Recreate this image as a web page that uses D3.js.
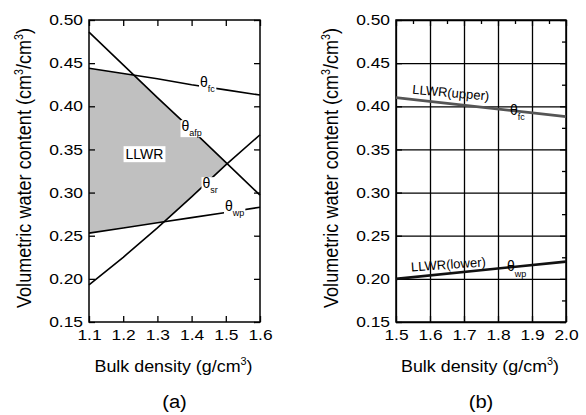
<!DOCTYPE html>
<html>
<head>
  <script src="https://d3js.org/d3.v7.min.js"></script>
  <style>
    body {
  margin: 0;
  background-color: #ffffff;
  font-family: 'Liberation Sans', Arial, sans-serif;
}

.axis text {
  font-size: 14.5px;
  fill: #000;
}

.axis path {
  display: none;
}

.axis line {
  stroke: #000;
  stroke-width: 1.3px;
}

.title {
  fill: #000;
}
  </style>
</head>
<body>

<script>
// Panel (a): water contents vs bulk density
const bulkA = [1.1, 1.2, 1.3, 1.4, 1.5, 1.6];
const thetaFC = [0.444, 0.438, 0.432, 0.425, 0.419, 0.413];
const thetaAFP = [0.486, 0.448, 0.410, 0.373, 0.335, 0.297];
const thetaSR = [0.193, 0.225, 0.259, 0.295, 0.332, 0.367];
const thetaWP = [0.253, 0.259, 0.265, 0.271, 0.277, 0.283];

// Panel (b): LLWR limits
const bulkB = [1.5, 2.0];
const llwrUpper = [0.410, 0.388];
const llwrLower = [0.200, 0.220];

const yTicks = [0.15, 0.20, 0.25, 0.30, 0.35, 0.40, 0.45, 0.50];
const xTicksA = [1.1, 1.2, 1.3, 1.4, 1.5, 1.6];
const xTicksB = [1.5, 1.6, 1.7, 1.8, 1.9, 2.0];

const width = 586;
const height = 415;

const svg = d3.select("body")
  .append("svg")
  .attr("width", width)
  .attr("height", height)
  .style("font-family", "'Liberation Sans', Arial, sans-serif");

const plotTop = 20, plotBottom = 322;

// the original figure is a bit stretched sideways, so widen the glyphs
function stretch(sel, factor) {
  sel.each(function () {
    const len = this.getComputedTextLength();
    d3.select(this)
      .attr("textLength", len * factor)
      .attr("lengthAdjust", "spacingAndGlyphs");
  });
}

function panel(left, right, xDomain, xTicks, letter) {
  const x = d3.scaleLinear().domain(xDomain).range([left, right]);
  const y = d3.scaleLinear().domain([0.15, 0.50]).range([plotBottom, plotTop]);
  const g = svg.append("g");

  // axis titles
  g.append("text")
    .attr("class", "title")
    .attr("text-anchor", "middle")
    .attr("font-size", 20.5)
    .attr("transform", `translate(${left - 58},${(plotTop + plotBottom) / 2 - 3}) rotate(-90)`)
    .attr("textLength", 280)
    .attr("lengthAdjust", "spacingAndGlyphs")
    .html('Volumetric water content (cm<tspan dy="-8" font-size="12">3</tspan><tspan dy="8">/cm</tspan><tspan dy="-8" font-size="12">3</tspan><tspan dy="8">)</tspan>');

  g.append("text")
    .attr("class", "title")
    .attr("text-anchor", "middle")
    .attr("font-size", 16.5)
    .attr("x", (left + right) / 2 - 1)
    .attr("y", 372)
    .attr("textLength", 158)
    .attr("lengthAdjust", "spacingAndGlyphs")
    .html('Bulk density (g/cm<tspan dy="-7" font-size="10">3</tspan><tspan dy="7">)</tspan>');

  g.append("text")
    .attr("class", "title")
    .attr("text-anchor", "middle")
    .attr("font-size", 18)
    .attr("x", (left + right) / 2)
    .attr("y", 408)
    .text(`(${letter})`)
    .call(stretch, 1.12);

  return { x, y, g };
}

// ---------- panel (a)
const A = panel(89, 260, [1.1, 1.6], xTicksA, "a");

// LLWR shaded region
const fcF = d3.scaleLinear().domain(bulkA).range(thetaFC);
const afpF = d3.scaleLinear().domain(bulkA).range(thetaAFP);
const srF = d3.scaleLinear().domain(bulkA).range(thetaSR);
const wpF = d3.scaleLinear().domain(bulkA).range(thetaWP);
const llwrPts = d3.range(1.1, 1.6001, 0.001)
  .map(b => ({ b, hi: Math.min(fcF(b), afpF(b)), lo: Math.max(wpF(b), srF(b)) }))
  .filter(d => d.hi >= d.lo);

A.g.append("path")
  .datum(llwrPts)
  .attr("fill", "#c0c0c0")
  .attr("d", d3.area().x(d => A.x(d.b)).y0(d => A.y(d.lo)).y1(d => A.y(d.hi)));

const seriesA = [thetaFC, thetaAFP, thetaSR, thetaWP];
const lineA = d3.line().x((d, i) => A.x(bulkA[i])).y(d => A.y(d));
A.g.selectAll(".lineA")
  .data(seriesA)
  .enter()
  .append("path")
  .attr("fill", "none")
  .attr("stroke", "#000")
  .attr("stroke-width", 1.6)
  .attr("d", lineA);

// curve labels with white backgrounds
const labelsA = [
  { sub: "fc", b: 1.4246, t: 0.4223 },
  { sub: "afp", b: 1.3705, t: 0.3712 },
  { sub: "sr", b: 1.4319, t: 0.3051 },
  { sub: "wp", b: 1.4977, t: 0.2784 }
];

labelsA.forEach(l => {
  const t = A.g.append("text")
    .attr("x", A.x(l.b))
    .attr("y", A.y(l.t))
    .attr("font-size", 14)
    .html(`θ<tspan dy="5" font-size="9">${l.sub}</tspan>`);
  const bb = t.node().getBBox();
  A.g.insert("rect", () => t.node())
    .attr("x", bb.x - 1).attr("y", bb.y + 2)
    .attr("width", bb.width + 2).attr("height", bb.height - 3)
    .attr("fill", "#fff");
});

{
  const t = A.g.append("text")
    .attr("x", A.x(1.2623))
    .attr("y", A.y(0.3445) + 5)
    .attr("text-anchor", "middle")
    .attr("font-size", 14)
    .text("LLWR");
  const bb = t.node().getBBox();
  A.g.insert("rect", () => t.node())
    .attr("x", bb.x - 2).attr("y", bb.y)
    .attr("width", bb.width + 4).attr("height", bb.height)
    .attr("fill", "#fff");
}

function axes(P, xTicks, minorX, minorY, grid) {
  const gridLen = grid ? (plotBottom - plotTop) : 6;
  const gridLenX = grid ? (P.x.range()[1] - P.x.range()[0]) : 6;

  const xb = P.g.append("g").attr("class", "axis")
    .attr("transform", `translate(0,${plotBottom})`)
    .call(d3.axisBottom(P.x).tickValues(xTicks).tickFormat(d3.format(".1f"))
      .tickSizeInner(-gridLen).tickSizeOuter(0).tickPadding(8));
  const yl = P.g.append("g").attr("class", "axis")
    .attr("transform", `translate(${P.x.range()[0]},0)`)
    .call(d3.axisLeft(P.y).tickValues(yTicks).tickFormat(d3.format(".2f"))
      .tickSizeInner(-gridLenX).tickSizeOuter(0).tickPadding(6));
  [xb, yl].forEach(a => {
    a.selectAll("text").attr("fill", "#000").call(stretch, 1.2);
    if (grid) a.selectAll("line").attr("stroke", "#888").attr("stroke-width", 1);
  });

  // top & right ticks
  P.g.append("g").attr("class", "axis")
    .attr("transform", `translate(0,${plotTop})`)
    .call(d3.axisTop(P.x).tickValues(xTicks.concat(minorX)).tickFormat("")
      .tickSizeInner(-6).tickSizeOuter(0))
    .selectAll("line").attr("y2", d => xTicks.includes(d) ? 6 : 4);
  P.g.append("g").attr("class", "axis")
    .attr("transform", `translate(${P.x.range()[1]},0)`)
    .call(d3.axisRight(P.y).tickValues(yTicks.concat(minorY)).tickFormat("")
      .tickSizeInner(-6).tickSizeOuter(0))
    .selectAll("line").attr("x2", d => yTicks.includes(d) ? -6 : -4);

  if (grid) {
    P.g.append("g").attr("class", "axis")
      .attr("transform", `translate(0,${plotBottom})`)
      .call(d3.axisBottom(P.x).tickValues(xTicks).tickFormat("").tickSizeInner(-6).tickSizeOuter(0));
    P.g.append("g").attr("class", "axis")
      .attr("transform", `translate(${P.x.range()[0]},0)`)
      .call(d3.axisLeft(P.y).tickValues(yTicks).tickFormat("").tickSizeInner(-6).tickSizeOuter(0));
  }

  P.g.append("rect")
    .attr("x", P.x.range()[0]).attr("y", plotTop)
    .attr("width", P.x.range()[1] - P.x.range()[0])
    .attr("height", plotBottom - plotTop)
    .attr("fill", "none")
    .attr("stroke", "#000")
    .attr("stroke-width", 1.5);
}

axes(A, xTicksA, [], [], false);

// ---------- panel (b)
const B = panel(396, 566, [1.5, 2.0], xTicksB, "b");
const minorXB = [1.55, 1.65, 1.75, 1.85, 1.95];
const minorYB = [0.175, 0.225, 0.275, 0.325, 0.375, 0.425, 0.475];
axes(B, xTicksB, minorXB, minorYB, true);

const lineB = d3.line().x((d, i) => B.x(bulkB[i])).y(d => B.y(d));
B.g.append("path")
  .datum(llwrUpper)
  .attr("fill", "none")
  .attr("stroke", "#555")
  .attr("stroke-width", 2.6)
  .attr("d", lineB);
B.g.append("path")
  .datum(llwrLower)
  .attr("fill", "none")
  .attr("stroke", "#111")
  .attr("stroke-width", 2.6)
  .attr("d", lineB);

B.g.append("text")
  .attr("text-anchor", "middle")
  .attr("font-size", 13)
  .attr("transform", `translate(${B.x(1.66)},${B.y(0.4105)}) rotate(5)`)
  .text("LLWR(upper)");
B.g.append("text")
  .attr("text-anchor", "middle")
  .attr("font-size", 13)
  .attr("transform", `translate(${B.x(1.655)},${B.y(0.2115)}) rotate(-4)`)
  .text("LLWR(lower)");

B.g.append("text")
  .attr("x", B.x(1.835)).attr("y", B.y(0.3898))
  .attr("font-size", 14)
  .html('θ<tspan dy="5" font-size="9">fc</tspan>');
B.g.append("text")
  .attr("x", B.x(1.8265)).attr("y", B.y(0.209))
  .attr("font-size", 14)
  .html('θ<tspan dy="6" font-size="9">wp</tspan>');
</script>
</body>
</html>
